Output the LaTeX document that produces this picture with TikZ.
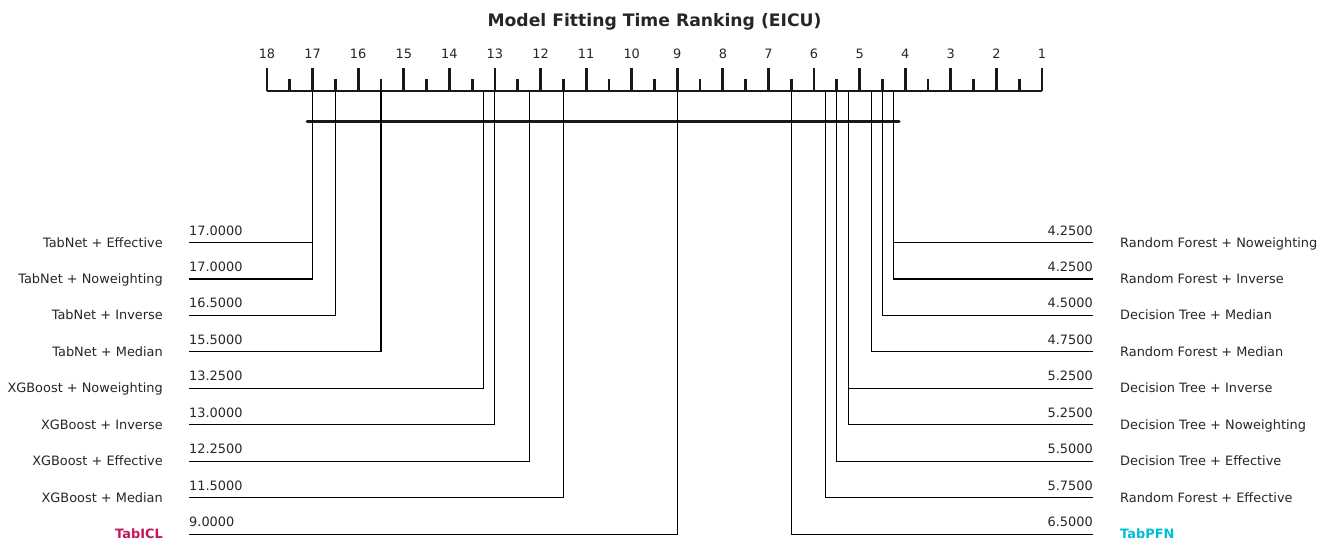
\documentclass[tikz,border=0pt]{standalone}
\usepackage{fontspec}
\setmainfont{DejaVu Sans}
\definecolor{txt}{HTML}{262626}
\definecolor{iclc}{HTML}{C2185B}
\definecolor{pfnc}{HTML}{00BCD4}
\begin{document}
\begin{tikzpicture}[x=1pt,y=-1pt,
  lbl/.style={inner sep=0pt,font=\fontsize{12.9}{15}\selectfont,text=txt},
  icl/.style={lbl,text=iclc,font=\fontsize{12.9}{15}\selectfont\bfseries},
  pfn/.style={lbl,text=pfnc,font=\fontsize{12.9}{15}\selectfont\bfseries},
  axisline/.style={line width=2.8pt,draw=black!90},
  bar/.style={line width=3pt,draw=black!90,line cap=round},
  conn/.style={line width=1.1pt,draw=black}]
\useasboundingbox (0,0) rectangle (1331,544);
\def\rx#1{267+(18-#1)*45.588}
% title
\node[inner sep=0pt,anchor=base,text=txt,font=\fontsize{17.2}{20}\selectfont\bfseries] (title) at (654.5,26.5) {Model Fitting Time Ranking (EICU)};
% axis
\draw[axisline] (267,91) -- (1042,91);
\foreach \k in {1,...,18}{
  \draw[axisline] ({\rx{\k}},91) -- ({\rx{\k}},68);
  \node[lbl,anchor=base] (t\k) at ({\rx{\k}},58) {\k};
}
\foreach \k in {1.5,2.5,...,17.5}{
  \draw[axisline] ({\rx{\k}},91) -- ({\rx{\k}},79);
}
% clique bar
\coordinate (b1) at (307,121);
\coordinate (b2) at (899,121);
\draw[bar] (b1) -- (b2);
% left side
\foreach \i/\r/\lab/\val/\st in {
  1/17/TabNet + Effective/17.0000/lbl,
  2/17/TabNet + Noweighting/17.0000/lbl,
  3/16.5/TabNet + Inverse/16.5000/lbl,
  4/15.5/TabNet + Median/15.5000/lbl,
  5/13.25/XGBoost + Noweighting/13.2500/lbl,
  6/13/XGBoost + Inverse/13.0000/lbl,
  7/12.25/XGBoost + Effective/12.2500/lbl,
  8/11.5/XGBoost + Median/11.5000/lbl,
  9/9/TabICL/9.0000/icl}{
  \pgfmathsetmacro{\yy}{242.5+(\i-1)*36.47}
  \coordinate (ls\i) at (189,\yy);
  \coordinate (la\i) at ({\rx{\r}},91);
  \draw[conn] (ls\i) -| (la\i);
  \node[lbl,anchor=base west] (lv\i) at (189,\yy-7.5) {\val};
  \node[\st,anchor=base east] (ln\i) at (163,\yy+4.5) {\lab};
}
% right side
\foreach \i/\r/\lab/\val/\st in {
  1/4.25/Random Forest + Noweighting/4.2500/lbl,
  2/4.25/Random Forest + Inverse/4.2500/lbl,
  3/4.5/Decision Tree + Median/4.5000/lbl,
  4/4.75/Random Forest + Median/4.7500/lbl,
  5/5.25/Decision Tree + Inverse/5.2500/lbl,
  6/5.25/Decision Tree + Noweighting/5.2500/lbl,
  7/5.5/Decision Tree + Effective/5.5000/lbl,
  8/5.75/Random Forest + Effective/5.7500/lbl,
  9/6.5/TabPFN/6.5000/pfn}{
  \pgfmathsetmacro{\yy}{242.5+(\i-1)*36.47}
  \coordinate (rs\i) at (1093,\yy);
  \coordinate (ra\i) at ({\rx{\r}},91);
  \draw[conn] (rs\i) -| (ra\i);
  \node[lbl,anchor=base east] (rv\i) at (1093,\yy-7.5) {\val};
  \node[\st,anchor=base west] (rn\i) at (1120,\yy+4.5) {\lab};
}
\end{tikzpicture}
\end{document}
